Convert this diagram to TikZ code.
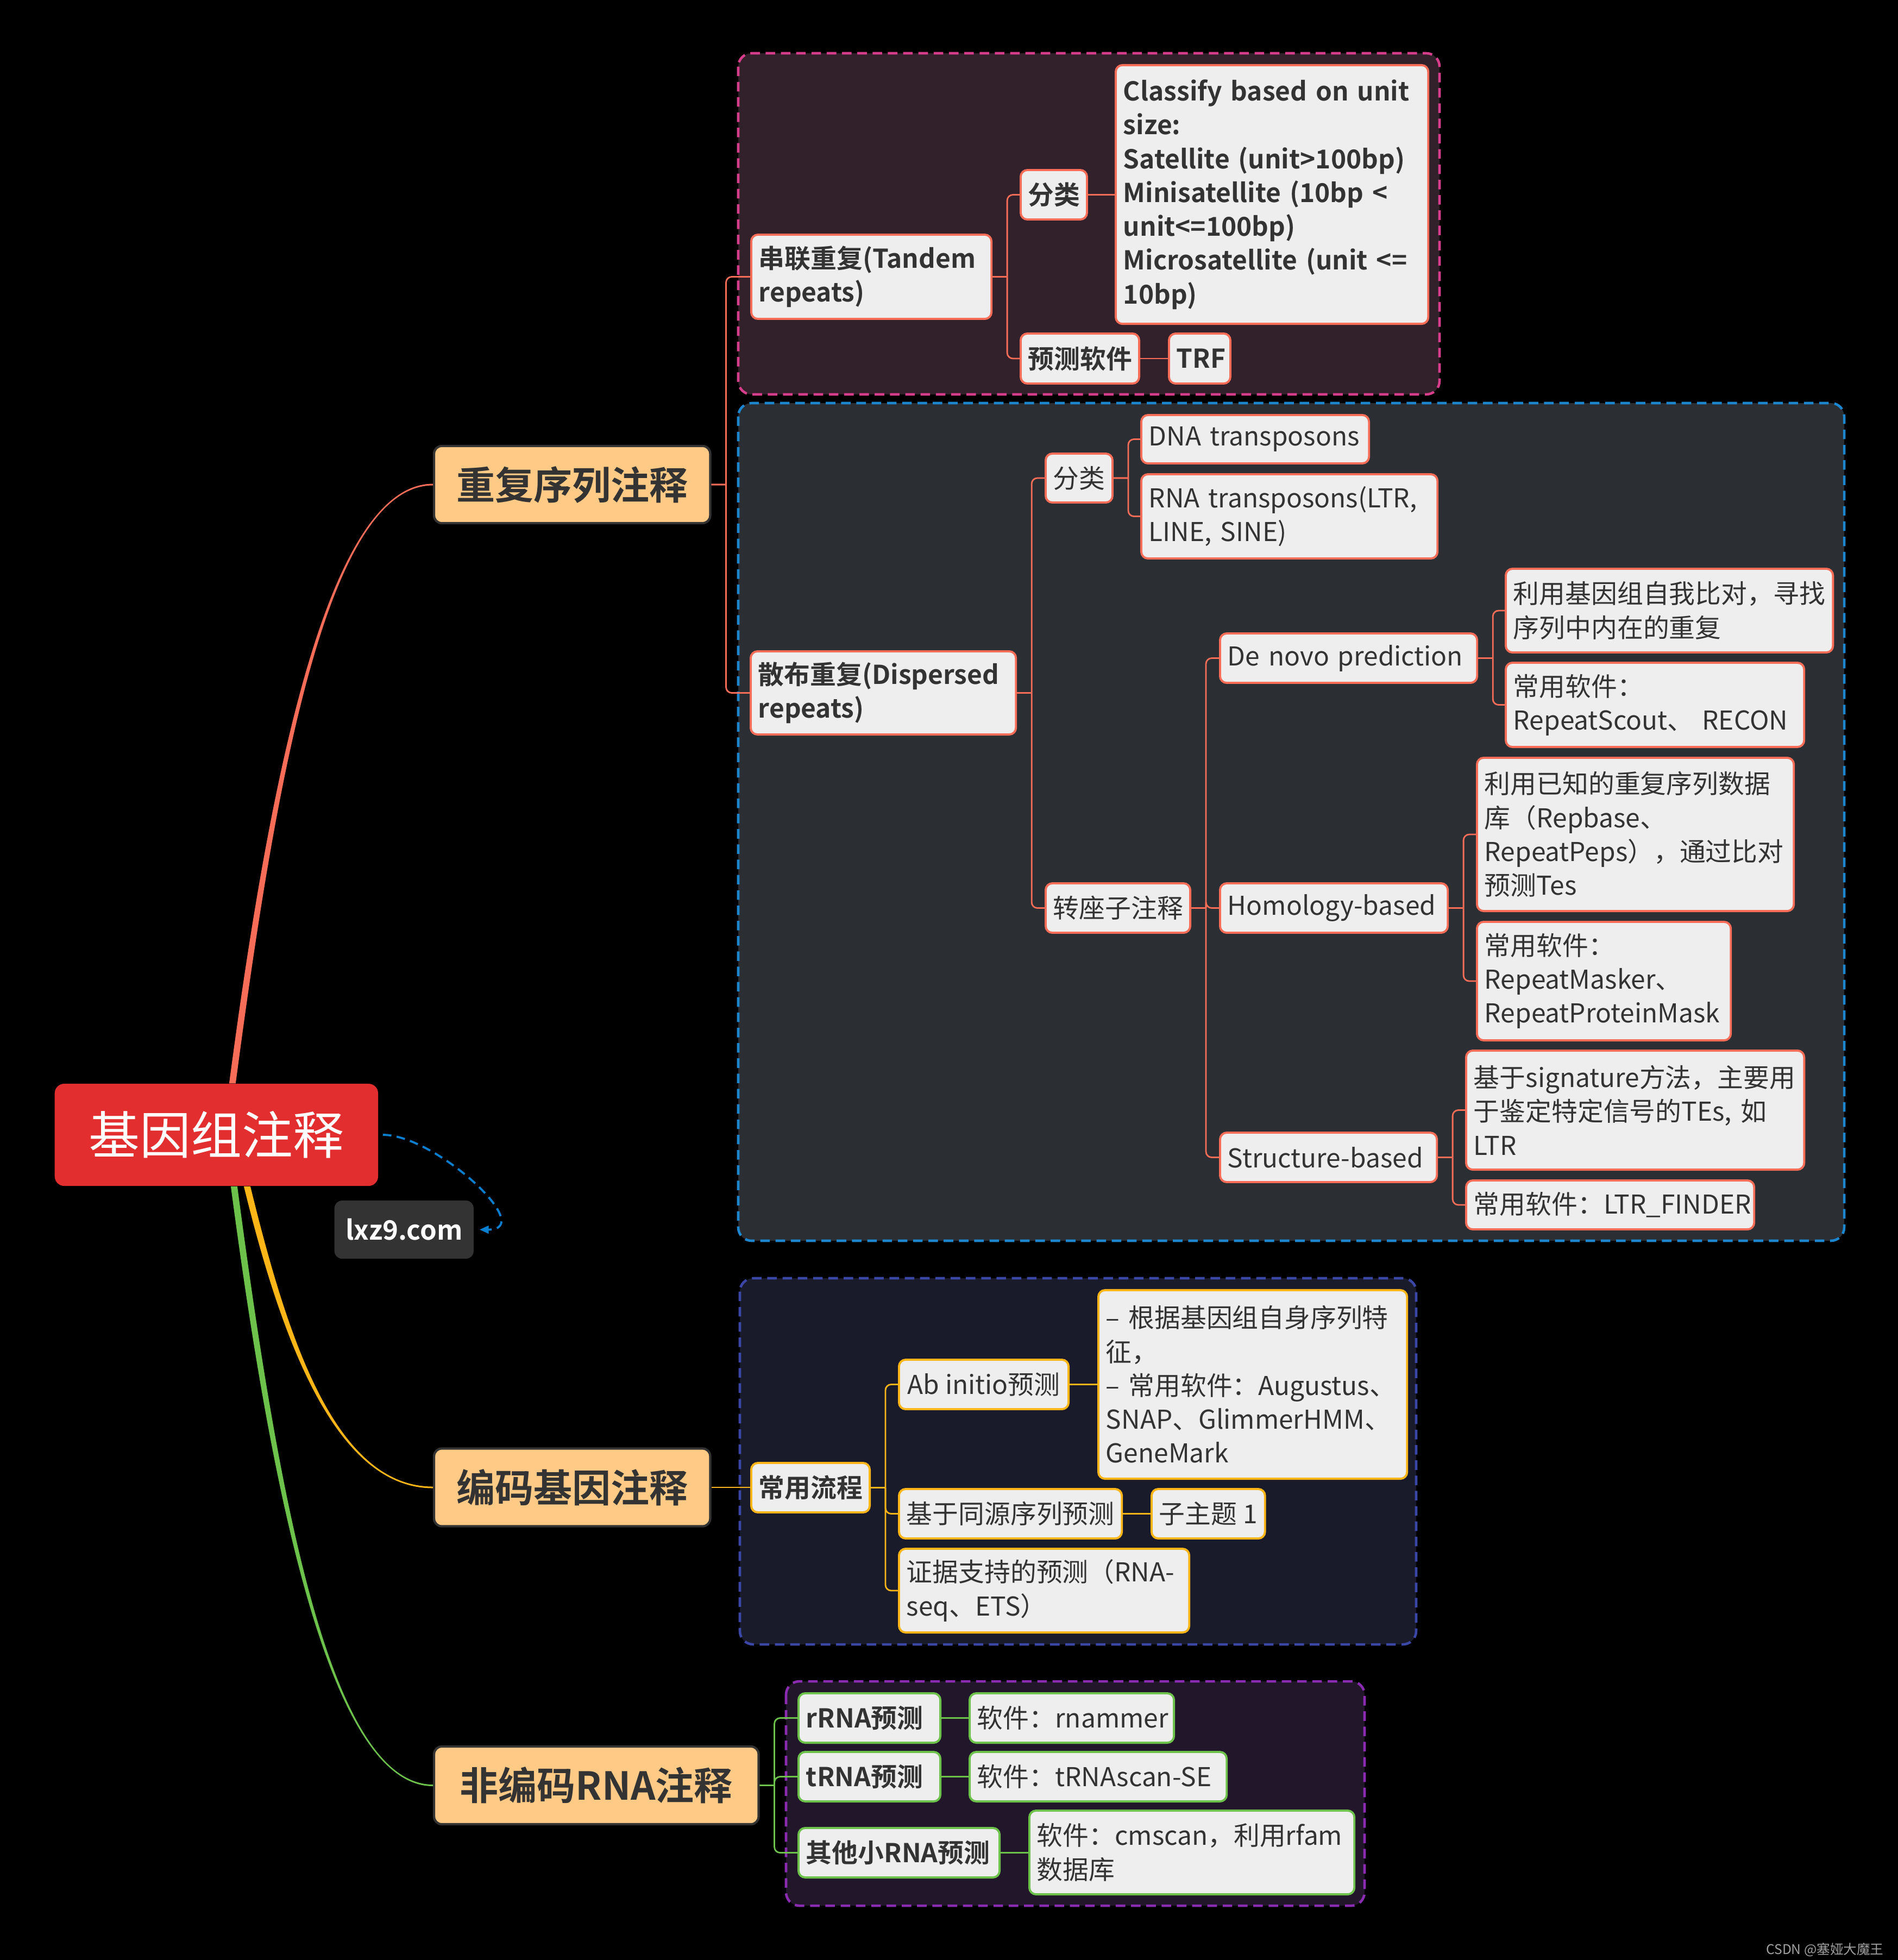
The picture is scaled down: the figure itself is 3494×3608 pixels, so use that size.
\documentclass[tikz,border=0pt]{standalone}
\usepackage{fontspec}
\setmainfont{Noto Sans CJK SC}[BoldFont={Noto Sans CJK SC Bold}]
\usepackage{tikz}
\usetikzlibrary{arrows.meta,calc,backgrounds}
\usepackage{xcolor}
\definecolor{rootred}{HTML}{E22E2F}
\definecolor{webgray}{HTML}{333333}
\definecolor{peach}{HTML}{FFCA85}
\definecolor{txt}{HTML}{333333}
\definecolor{leaffill}{HTML}{EEEEEE}
\definecolor{redbr}{HTML}{F86D58}
\definecolor{yelbr}{HTML}{FDB517}
\definecolor{grnbr}{HTML}{6DC24B}
\definecolor{linkblue}{HTML}{0A7FCF}
\definecolor{tanfill}{HTML}{32202B}
\definecolor{tanedge}{HTML}{D63D8B}
\definecolor{disfill}{HTML}{2B2E32}
\definecolor{disedge}{HTML}{1C87CF}
\definecolor{codfill}{HTML}{1A1B2A}
\definecolor{codedge}{HTML}{3B47A6}
\definecolor{ncfill}{HTML}{22172A}
\definecolor{ncedge}{HTML}{8A2BB2}
\definecolor{wmgray}{HTML}{A0A0A0}

\tikzset{
  wh/.style 2 args={minimum width=#1cm, minimum height=#2cm},
  lw/.style 2 args={text width=#1cm-0.28cm, minimum height=#2cm},
  leaf/.style={draw, fill=leaffill, text=txt, line width=1.1pt, rounded corners=3.5pt,
    anchor=west, align=left, inner xsep=0.14cm, inner ysep=0.08cm,
    font=\fontsize{13.6}{17.7}\selectfont},
  heavy/.style={font=\fontsize{13.6}{17.7}\selectfont\bfseries},
  redleaf/.style={leaf, draw=redbr},
  yelleaf/.style={leaf, draw=yelbr},
  grnleaf/.style={leaf, draw=grnbr},
  maintopic/.style={draw=txt, fill=peach, text=txt, line width=1.2pt, rounded corners=4pt,
    anchor=west, font=\fontsize{20.2}{24}\selectfont\bfseries},
  grp/.style={line width=1.3pt, dash pattern=on 5pt off 3pt, rounded corners=7pt},
  redline/.style={draw=redbr, line width=0.8pt, rounded corners=3pt},
  yelline/.style={draw=yelbr, line width=0.8pt, rounded corners=3pt},
  grnline/.style={draw=grnbr, line width=0.8pt, rounded corners=3pt}
}

\begin{document}
\begin{tikzpicture}[x=0.01cm, y=-0.01cm]
  \useasboundingbox (0,0) rectangle (3494,3608);

  \node[fill=rootred, text=white, rounded corners=5pt, anchor=west, wh={5.95}{1.88},
    font=\fontsize{26.7}{30}\selectfont] (root) at (100,2089) {基因组注释};
  \node[fill=webgray, text=white, rounded corners=4pt, anchor=west, wh={2.56}{1.07},
    font=\fontsize{14}{16}\selectfont\bfseries] (web) at (615,2263.5) {lxz9.com};

  \node[maintopic, wh={5.08}{1.42}] (rep) at (797,892) {重复序列注释};
  \node[maintopic, wh={5.08}{1.43}] (cod) at (797,2738) {编码基因注释};
  \node[maintopic, wh={5.97}{1.43}] (nc) at (797,3286.5) {非编码RNA注释};

  \node[redleaf, heavy, lw={4.42}{1.55}] (tan) at (1381,509.5) {串联重复(Tandem\\repeats)};
  \node[redleaf, heavy, lw={1.22}{0.91}] (tcls) at (1877,358.5) {分类};
  \node[redleaf, heavy, lw={5.75}{4.76}] (tclsd) at (2052,358) {Classify based on unit\\size:\\Satellite (unit>100bp)\\Minisatellite (10bp <\\unit<=100bp)\\Microsatellite (unit <=\\10bp)};
  \node[redleaf, heavy, lw={2.18}{0.92}] (tsoft) at (1877,660) {预测软件};
  \node[redleaf, heavy, lw={1.13}{0.92}] (trf) at (2150,660) {TRF};

  \node[redleaf, heavy, lw={4.88}{1.53}] (dis) at (1380,1275.5) {散布重复(Dispersed\\repeats)};
  \node[redleaf, lw={1.23}{0.90}] (dcls) at (1923,880) {分类};
  \node[redleaf, lw={4.19}{0.89}] (dna) at (2099,808.5) {DNA transposons};
  \node[redleaf, lw={5.45}{1.55}] (rna) at (2099,950.5) {RNA transposons(LTR,\\LINE, SINE)};
  \node[redleaf, lw={2.66}{0.91}] (te) at (1923,1671.5) {转座子注释};
  \node[redleaf, lw={4.73}{0.91}] (dn) at (2244,1211.5) {De novo prediction};
  \node[redleaf, lw={6.02}{1.54}] (dn1) at (2770,1124) {利用基因组自我比对，寻找\\序列中内在的重复};
  \node[redleaf, lw={5.49}{1.55}] (dn2) at (2770,1297.5) {常用软件：\\RepeatScout、 RECON};
  \node[redleaf, lw={4.19}{0.91}] (hb) at (2244,1671.5) {Homology-based};
  \node[redleaf, lw={5.83}{2.82}] (hb1) at (2717,1536) {利用已知的重复序列数据\\库（Repbase、\\RepeatPeps），通过比对\\预测Tes};
  \node[redleaf, lw={4.67}{2.18}] (hb2) at (2717,1806) {常用软件：\\RepeatMasker、\\RepeatProteinMask};
  \node[redleaf, lw={3.99}{0.91}] (sb) at (2244,2130.5) {Structure-based};
  \node[redleaf, lw={6.22}{2.19}] (sb1) at (2697,2043.5) {基于signature方法，主要用\\于鉴定特定信号的TEs, 如\\LTR};
  \node[redleaf, lw={5.30}{0.90}] (sb2) at (2697,2218) {常用软件：LTR\_FINDER};

  \node[yelleaf, heavy, lw={2.18}{0.91}] (flow) at (1381,2738.5) {常用流程};
  \node[yelleaf, wh={3.12}{0.91}] (abi) at (1653,2548.5) {Ab initio预测};
  \node[yelleaf, lw={5.68}{3.47}] (abid) at (2020,2548.5) {– 根据基因组自身序列特\\征，\\– 常用软件：Augustus、\\SNAP、GlimmerHMM、\\GeneMark};
  \node[yelleaf, lw={4.10}{0.91}] (hom) at (1653,2786.5) {基于同源序列预测};
  \node[yelleaf, wh={2.01}{0.91}] (sub) at (2118,2786.5) {子主题 1};
  \node[yelleaf, lw={5.34}{1.54}] (evi) at (1653,2928) {证据支持的预测（RNA-\\seq、ETS）};

  \node[grnleaf, heavy, lw={2.61}{0.91}] (rr) at (1468,3162.5) {rRNA预测};
  \node[grnleaf, lw={3.76}{0.91}] (rrs) at (1783,3162.5) {软件：rnammer};
  \node[grnleaf, heavy, lw={2.61}{0.91}] (tr) at (1468,3270.5) {tRNA预测};
  \node[grnleaf, lw={4.73}{0.91}] (trs) at (1783,3270.5) {软件：tRNAscan-SE};
  \node[grnleaf, heavy, lw={3.70}{0.91}] (oth) at (1468,3410.5) {其他小RNA预测};
  \node[grnleaf, lw={5.98}{1.54}] (oths) at (1893,3410) {软件：cmscan，利用rfam\\数据库};

  \node[anchor=east, text=wmgray, font=\fontsize{7}{8}\selectfont] (mark) at (3480,3589) {CSDN @塞娅大魔王};

  \fill[redbr] ($(root.north)+(23.5,0)$) .. controls (494,1450) and (600,890.5) .. ($(rep.west)+(0,-1.5)$)
    -- ($(rep.west)+(0,1.5)$) .. controls (600,893.5) and (506,1450) .. ($(root.north)+(35.5,0)$) -- cycle;
  \fill[yelbr] ($(root.south)+(50.5,0)$) .. controls (516,2457) and (615,2739.5) .. ($(cod.west)+(0,1.5)$)
    -- ($(cod.west)+(0,-1.5)$) .. controls (615,2736.5) and (528,2457) .. ($(root.south)+(62.5,0)$) -- cycle;
  \fill[grnbr] ($(root.south)+(26.5,0)$) .. controls (497,2727) and (603,3288) .. ($(nc.west)+(0,1.5)$)
    -- ($(nc.west)+(0,-1.5)$) .. controls (603,3285) and (509,2727) .. ($(root.south)+(38.5,0)$) -- cycle;

  \draw[linkblue, line width=1.1pt, dash pattern=on 4.5pt off 2.8pt,
    -{Triangle[length=0.17cm,width=0.14cm]}, shorten <=0.08cm, shorten >=0.1cm]
    (root.east) .. controls +(105,0) and +(118,0) .. (web.east);

  \foreach \p/\c in {rep/tan, rep/dis, tan/tcls, tan/tsoft, dis/dcls, dis/te,
      dcls/dna, dcls/rna, te/dn, te/hb, te/sb, dn/dn1, dn/dn2, hb/hb1, hb/hb2, sb/sb1, sb/sb2}
    \draw[redline] (\p.east) -- ++(27,0) (\p.east) ++(27,0) |- (\c.west);
  \foreach \p/\c in {tcls/tclsd, tsoft/trf}
    \draw[redline] (\p.east) -- (\p.east -| \c.west);
  \foreach \p/\c in {flow/abi, flow/hom, flow/evi}
    \draw[yelline] (\p.east) -- ++(27,0) (\p.east) ++(27,0) |- (\c.west);
  \foreach \p/\c in {cod/flow, abi/abid, hom/sub}
    \draw[yelline] (\p.east) -- (\p.east -| \c.west);
  \foreach \p/\c in {nc/rr, nc/tr, nc/oth}
    \draw[grnline] (\p.east) -- ++(27,0) (\p.east) ++(27,0) |- (\c.west);
  \foreach \p/\c in {rr/rrs, tr/trs, oth/oths}
    \draw[grnline] (\p.east) -- (\p.east -| \c.west);

  \begin{scope}[on background layer]
    \fill[black] (0,0) rectangle (3494,3608);
    \draw[grp, draw=tanedge, fill=tanfill] (1359,98) rectangle (2650,726);
    \draw[grp, draw=disedge, fill=disfill] (1359,742) rectangle (3395,2284);
    \draw[grp, draw=codedge, fill=codfill] (1362,2353) rectangle (2607,3027);
    \draw[grp, draw=ncedge, fill=ncfill] (1447,3095) rectangle (2512,3508);
  \end{scope}
\end{tikzpicture}
\end{document}
